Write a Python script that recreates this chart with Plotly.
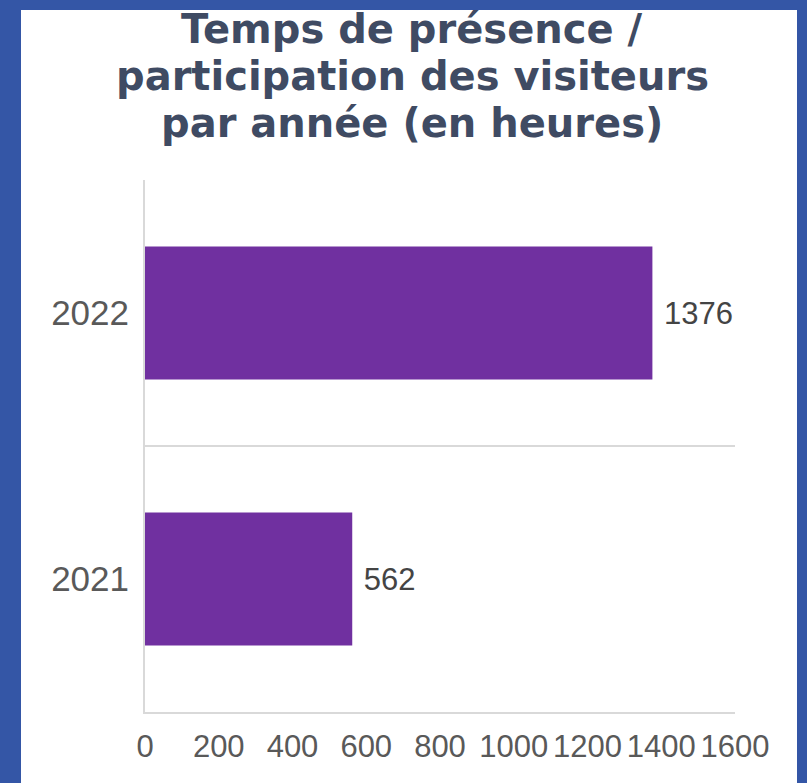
import plotly.graph_objects as go

years = ["2021", "2022"]
hours = [562, 1376]
x_ticks = [0, 200, 400, 600, 800, 1000, 1200, 1400, 1600]
title_lines = ["Temps de présence /", "participation des visiteurs", "par année (en heures)"]

BLUE = "#3456a6"
PURPLE = "#7030a0"
TITLE_C = "#3f4b63"
TICK_C = "#595959"
LINE_C = "#d9d9d9"

W, H = 807, 783
L, R, T, B = 145, 72, 180, 71
pw, ph = W - L - R, H - T - B


def px_x(x):
    return (x - L) / pw


def px_y(y):
    return (H - B - y) / ph


fig = go.Figure(go.Bar(
    y=years, x=hours, orientation="h",
    marker=dict(color=PURPLE, line=dict(width=0)),
    text=[" " + str(v) for v in hours], textposition="outside",
    textfont=dict(family="Liberation Sans, Arial", size=31, color="#444444"),
    cliponaxis=False, hoverinfo="skip",
))

# white panel
fig.add_shape(type="rect", xref="paper", yref="paper", layer="below",
              x0=px_x(21), x1=px_x(797), y0=px_y(800), y1=px_y(10),
              fillcolor="white", line=dict(width=0))

title_mid = [29, 76, 123]
for line, ym in zip(title_lines, title_mid):
    fig.add_annotation(text=line, xref="paper", yref="paper", x=px_x(412), y=px_y(ym),
                       xanchor="center", yanchor="middle", showarrow=False,
                       font=dict(family="DejaVu Sans", size=40, color=TITLE_C, weight="bold"))

fig.update_layout(
    width=W, height=H,
    margin=dict(l=L, r=R, t=T, b=B),
    paper_bgcolor=BLUE, plot_bgcolor="rgba(0,0,0,0)",
    bargap=0.5, showlegend=False,
    xaxis=dict(range=[0, 1600], tickvals=x_ticks, showgrid=False, zeroline=False,
               showline=True, linecolor=LINE_C, linewidth=2,
               tickfont=dict(family="Liberation Sans, Arial", size=31, color=TICK_C),
               ticks="", ticklabelstandoff=6),
    yaxis=dict(type="category", categoryorder="array", categoryarray=years,
               range=[-0.5, 1.5], tickson="boundaries", showgrid=True, gridcolor=LINE_C,
               gridwidth=2, showline=True, linecolor=LINE_C, linewidth=2, zeroline=False,
               tickfont=dict(family="Liberation Sans, Arial", size=35, color=TICK_C),
               ticks="", ticklabelstandoff=7),
)

fig.write_html("out.html", config={"displayModeBar": False},
               post_script="document.body.style.margin='0';document.body.style.background='%s';" % BLUE)
